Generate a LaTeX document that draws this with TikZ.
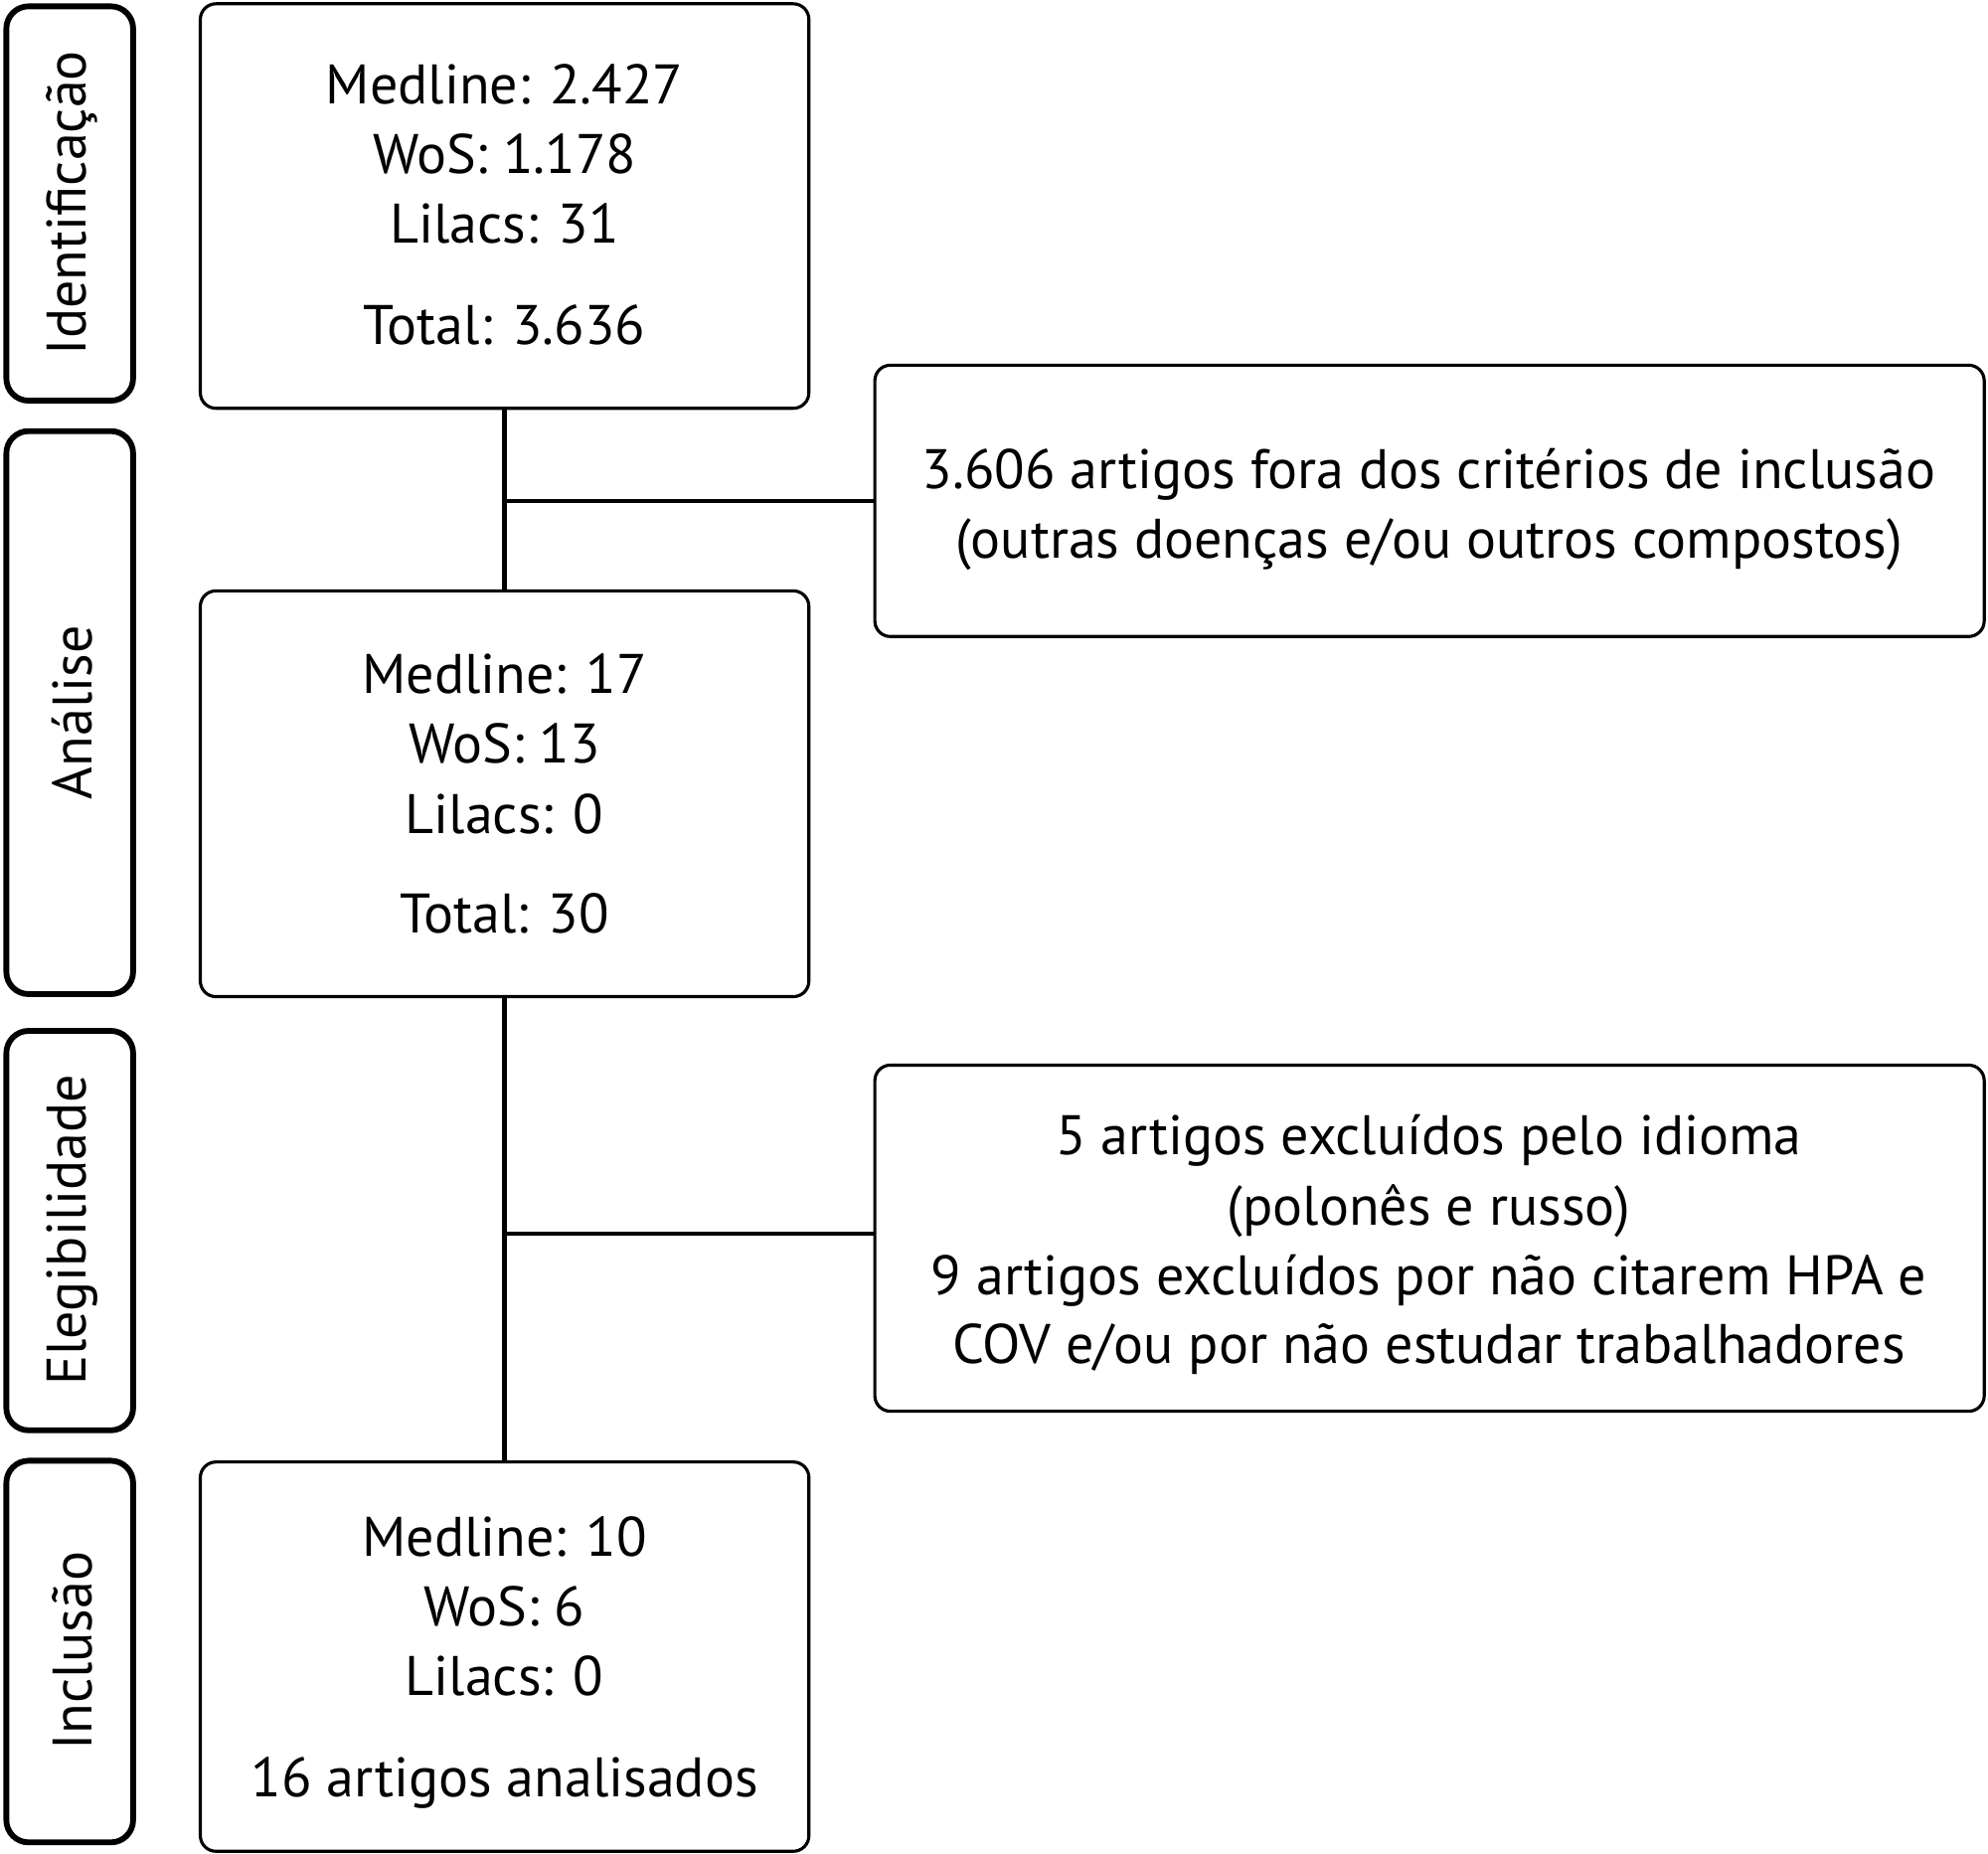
\documentclass[tikz,border=0pt]{standalone}
\usepackage{fontspec}
\setmainfont{PT Sans}
\begin{document}
\begin{tikzpicture}[x=0.02cm,y=-0.02cm,
  side/.style={draw,line width=6.5pt*0.4,rounded corners=10pt},
  mbox/.style={draw,line width=1.4pt,rounded corners=7pt},
  conn/.style={line width=2pt},
  txt/.style={font=\fontsize{25}{30}\selectfont,anchor=base}]
\useasboundingbox (0,0) rectangle (1568,1462);
% side boxes
\draw[side] (5,5) rectangle (105,316) coordinate (s1);
\draw[side] (5,340) rectangle (105,784);
\draw[side] (5,813) rectangle (105,1128);
\draw[side] (5,1152) rectangle (105,1453);
\node[txt,rotate=90,anchor=center] (l1) at (57,160) {Identificação};
\node[txt,rotate=90,anchor=center] (l2) at (57,562) {Análise};
\node[txt,rotate=90,anchor=center] (l3) at (57,970) {Elegibilidade};
\node[txt,rotate=90,anchor=center] (l4) at (57,1302) {Inclusão};
% main boxes
\node[mbox,minimum width=480*0.02cm,minimum height=319*0.02cm] (b1) at (398,162.5) {};
\node[mbox,minimum width=480*0.02cm,minimum height=320*0.02cm] (b2) at (398,626) {};
\node[mbox,minimum width=480*0.02cm,minimum height=307*0.02cm] (b3) at (398,1306.5) {};
\node[mbox,minimum width=875*0.02cm,minimum height=214*0.02cm] (r1) at (1127.5,395) {};
\node[mbox,minimum width=875*0.02cm,minimum height=273*0.02cm] (r2) at (1127.5,976.5) {};
% connectors
\coordinate (j1) at (399,395);
\coordinate (j2) at (399,973);
\draw[conn] (b1.south) -- (b2.north);
\draw[conn] (b2.south) -- (b3.north);
\draw[conn] (j1) -- (r1.west);
\draw[conn] (j2) -- (j2-|r2.west);
% texts
\node[txt] (t1a) at (398,82) {Medline: 2.427};
\node[txt] (t1b) at (398,137) {WoS: 1.178};
\node[txt] (t1c) at (398,192) {Lilacs: 31};
\node[txt] (t1d) at (398,272) {Total: 3.636};
\node[txt] (t2a) at (398,547) {Medline: 17};
\node[txt] (t2b) at (398,602) {WoS: 13};
\node[txt] (t2c) at (398,657) {Lilacs: 0};
\node[txt] (t2d) at (398,736) {Total: 30};
\node[txt] (t3a) at (398,1227) {Medline: 10};
\node[txt] (t3b) at (398,1282) {WoS: 6};
\node[txt] (t3c) at (398,1337) {Lilacs: 0};
\node[txt] (t3d) at (398,1417) {16 artigos analisados};
\node[txt] (r1a) at (1127,385) {3.606 artigos fora dos critérios de inclusão};
\node[txt] (r1b) at (1127,440) {(outras doenças e/ou outros compostos)};
\node[txt] (r2a) at (1127,911) {5 artigos excluídos pelo idioma};
\node[txt] (r2b) at (1127,966) {(polonês e russo)};
\node[txt] (r2c) at (1127,1021) {9 artigos excluídos por não citarem HPA e};
\node[txt] (r2d) at (1127,1075) {COV e/ou por não estudar trabalhadores};
\end{tikzpicture}
\end{document}
